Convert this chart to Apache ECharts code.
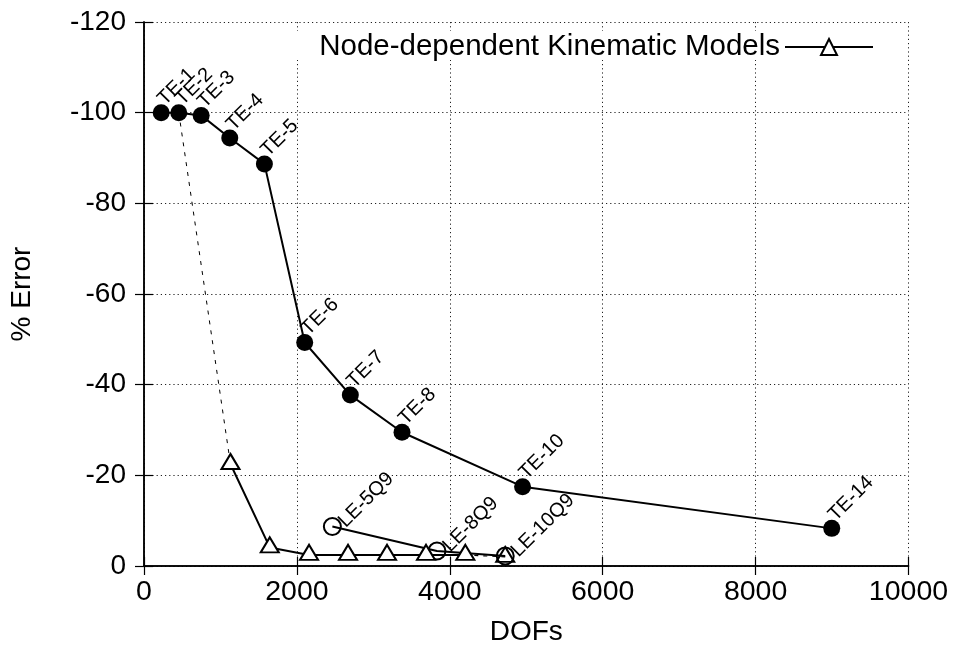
<!DOCTYPE html>
<html>
<head>
<meta charset="utf-8">
<script src="https://cdn.jsdelivr.net/npm/echarts@6/dist/echarts.min.js"></script>
<style>
html,body{margin:0;padding:0;background:#fff;}
#chart{width:959px;height:655px;}
</style>
</head>
<body>
<div id="chart"></div>
<script>
// TE models (filled circles)
const teNames = ['TE-1','TE-2','TE-3','TE-4','TE-5','TE-6','TE-7','TE-8','TE-10','TE-14'];
const teDofs  = [225, 455, 748, 1122, 1575, 2102, 2699, 3375, 4952, 8996];
const teErr   = [-100, -100, -99.4, -94.4, -88.7, -49.3, -37.7, -29.5, -17.5, -8.3];

// LE models (open circles)
const leNames = ['LE-5Q9','LE-8Q9','LE-10Q9'];
const leDofs  = [2464, 3832, 4725];
const leErr   = [-8.7, -3.3, -2.2];

// Node-dependent kinematic models (triangles)
const ndName = 'Node-dependent Kinematic Models';
const ndDofs = [1131, 1645, 2159, 2669, 3179, 3689, 4203];
const ndErr  = [-22.5, -4.1, -2.45, -2.45, -2.45, -2.45, -2.45];
// dashed links
const link1Dofs = [455, 1131];
const link1Err  = [-100, -22.5];
const link2Dofs = [4203, 4725];
const link2Err  = [-2.45, -2.0];

const xTicks = {min: 0, max: 10000, interval: 2000};
const yTicks = {min: -120, max: 0, interval: 20};

const FONT = 'Liberation Sans, Arial, Helvetica, sans-serif';
const zip = (xs, ys, names) => xs.map((x, i) => names ? {name: names[i], value: [x, ys[i]]} : [x, ys[i]]);

const chart = echarts.init(document.getElementById('chart'), null, {renderer: 'canvas'});

const axisLine = {show: true, lineStyle: {color: '#000', width: 1.5}};
const tick = {show: true, inside: true, length: 9, lineStyle: {color: '#000', width: 1.2}};
const grid = {show: true, lineStyle: {color: '#222', width: 1, type: [1.2, 3]}};
const triSize = [18, 15];
const triOffset = [0, -2.5];

const option = {
  backgroundColor: '#fff',
  animation: false,
  textStyle: {fontFamily: FONT},
  grid: {left: 143.5, top: 22, right: 50.5, bottom: 89, containLabel: false},
  graphic: [{
    type: 'rect', z: 1,
    shape: {x: 292, y: 31, width: 614, height: 29},
    style: {fill: '#fff'}
  }],
  legend: {
    data: [ndName],
    right: 53, top: 30,
    align: 'right',
    itemWidth: 88, itemHeight: 20,
    padding: [2, 32, 2, 10],
    textStyle: {fontSize: 29.5, color: '#000', fontFamily: FONT},
    selectedMode: false
  },
  xAxis: [{
    type: 'value', position: 'bottom',
    min: xTicks.min, max: xTicks.max, interval: xTicks.interval,
    name: 'DOFs', nameLocation: 'middle', nameGap: 52,
    nameTextStyle: {fontSize: 28, color: '#000', fontFamily: FONT},
    axisLine: axisLine, axisTick: tick, splitLine: grid,
    axisLabel: {fontSize: 28.5, color: '#000', margin: 12, fontFamily: FONT, formatter: v => String(v)}
  }, {
    type: 'value', position: 'top',
    min: xTicks.min, max: xTicks.max, interval: xTicks.interval,
    axisLine: axisLine, axisTick: tick, splitLine: {show: false},
    axisLabel: {show: false}
  }],
  yAxis: [{
    type: 'value', position: 'left', inverse: true,
    min: yTicks.min, max: yTicks.max, interval: yTicks.interval,
    name: '% Error', nameLocation: 'middle', nameGap: 108, nameRotate: 90,
    nameTextStyle: {fontSize: 28, color: '#000', fontFamily: FONT},
    axisLine: axisLine, axisTick: tick, splitLine: grid,
    axisLabel: {fontSize: 28, color: '#000', margin: 18, fontFamily: FONT, formatter: v => String(v)}
  }, {
    type: 'value', position: 'right', inverse: true,
    min: yTicks.min, max: yTicks.max, interval: yTicks.interval,
    axisLine: axisLine, axisTick: tick, splitLine: {show: false},
    axisLabel: {show: false}
  }],
  series: [
    {
      type: 'line', name: 'link1', data: zip(link1Dofs, link1Err),
      symbol: 'none', z: 2,
      lineStyle: {color: '#000', width: 1, type: [4, 6]}
    },
    {
      type: 'line', name: 'link2', data: zip(link2Dofs, link2Err),
      symbol: 'none', z: 2,
      lineStyle: {color: '#000', width: 1.2, type: [4, 5]}
    },
    {
      type: 'line', name: 'TE', data: zip(teDofs, teErr, teNames),
      symbol: 'circle', symbolSize: 17, z: 3,
      itemStyle: {color: '#000'},
      lineStyle: {color: '#000', width: 2},
      label: {
        show: true, formatter: p => p.name, position: 'top', distance: 2,
        rotate: 45, align: 'left', verticalAlign: 'middle',
        fontSize: 20, color: '#000', fontFamily: FONT
      }
    },
    {
      type: 'line', name: 'LE', data: zip(leDofs, leErr, leNames),
      symbol: 'circle', symbolSize: 17, z: 3,
      itemStyle: {color: 'rgba(255,255,255,0)', borderColor: '#000', borderWidth: 2},
      lineStyle: {color: '#000', width: 2},
      label: {
        show: true, formatter: p => p.name, position: 'right', distance: 2,
        offset: [0, -3],
        rotate: 45, align: 'left', verticalAlign: 'middle',
        fontSize: 20, color: '#000', fontFamily: FONT
      }
    },
    {
      type: 'line', name: ndName, data: zip(ndDofs, ndErr),
      symbol: 'triangle', symbolSize: triSize, symbolOffset: triOffset, z: 4,
      itemStyle: {color: '#fff', borderColor: '#000', borderWidth: 2},
      lineStyle: {color: '#000', width: 2}
    },
    {
      type: 'line', name: 'nd-end', data: zip([link2Dofs[1]], [link2Err[1]]),
      symbol: 'triangle', symbolSize: triSize, symbolOffset: triOffset, z: 4,
      itemStyle: {color: 'rgba(255,255,255,0)', borderColor: '#000', borderWidth: 2},
      lineStyle: {width: 0}
    }
  ]
};
chart.setOption(option);
</script>
</body>
</html>
